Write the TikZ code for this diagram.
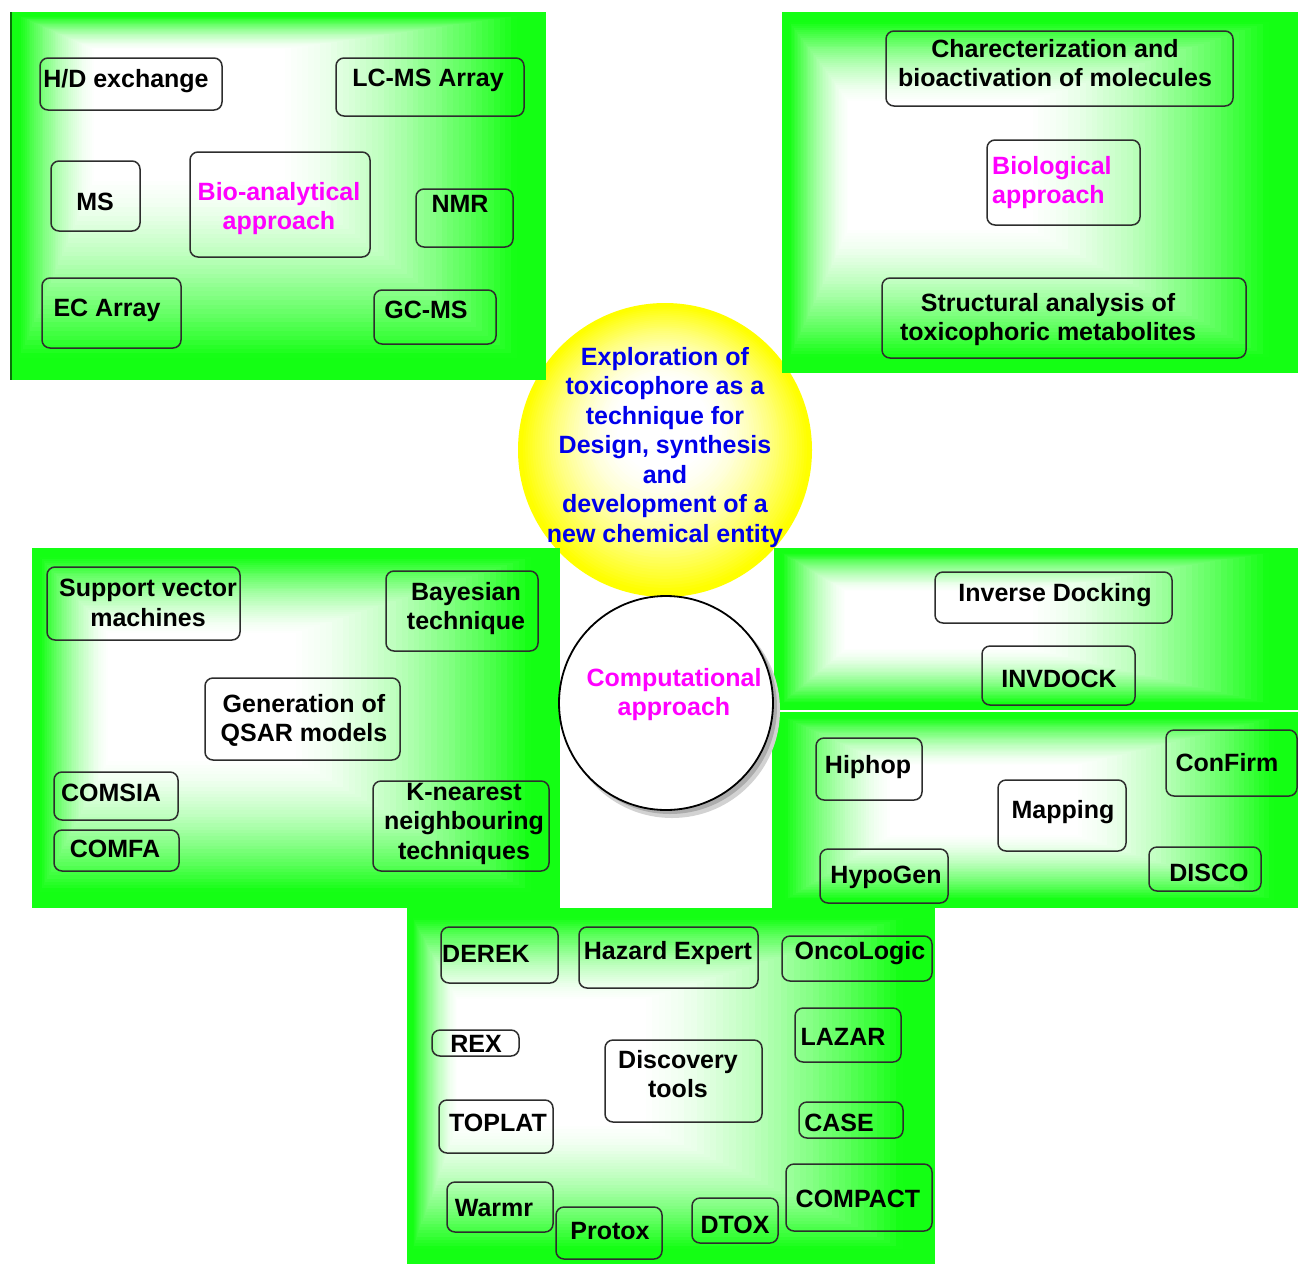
\documentclass[tikz,border=0pt]{standalone}
\usepackage{fontspec}
\setmainfont{Liberation Sans}
\definecolor{pgreen}{RGB}{20,255,20}
\definecolor{myyellow}{RGB}{255,255,0}
\definecolor{mymag}{RGB}{255,0,255}
\definecolor{myblue}{RGB}{0,0,235}
\definecolor{boxline}{RGB}{45,45,45}
% rectangular path gradient: x1 y1 x2 y2 fx fy
\newcommand\panelbg[6]{%
  \foreach \i in {70,69,...,1}{%
    \pgfmathsetmacro\tval{\i/70}%
    \pgfmathsetmacro\uval{max(0,min(1,(\tval-0.33)/0.6))}%
    \pgfmathtruncatemacro\pp{100*\uval^1.6}%
    \fill[pgreen!\pp!white] ({#5+\tval*(#1-#5)},{#6+\tval*(#2-#6)}) rectangle ({#5+\tval*(#3-#5)},{#6+\tval*(#4-#6)});
  }%
}
\newcommand\bx[4]{\draw[boxstyle] (#1,#2) rectangle (#3,#4);}
\tikzset{
  boxstyle/.style={draw=boxline, line width=1.5pt, rounded corners=8pt},
  lbl/.style={font=\fontsize{25}{29.5}\selectfont\bfseries, inner sep=0pt, align=center, anchor=north, text=black},
  maglbl/.style={lbl, text=mymag},
  bluelbl/.style={lbl, text=myblue},
}
\begin{document}
\begin{tikzpicture}[x=1pt,y=-1pt]
\useasboundingbox (0,0) rectangle (1298,1264);
% yellow central circle
\foreach \i in {60,59,...,1}{%
  \pgfmathsetmacro\tval{\i/60}%
  \pgfmathsetmacro\uval{max(0,min(1,(\tval-0.3)/0.68))}%
  \pgfmathtruncatemacro\pp{100*\uval^1.5}%
  \fill[myyellow!\pp!white] ({662+\tval*3},{415+\tval*35}) circle[radius={\tval*147pt}];
}
% panels
\panelbg{10}{12}{546}{380}{140}{70}
\draw[pgreen!45!black, line width=2pt] (11,12) -- (11,380);
\panelbg{782}{12}{1298}{373}{885}{150}
\panelbg{32}{548}{560}{908}{150}{680}
\panelbg{774}{548}{1298}{710}{885}{615}
\panelbg{772}{712}{1298}{908}{955}{795}
\panelbg{407}{908}{935}{1264}{485}{1050}
% computational circle with shadow
\fill[gray!35] (672,710) circle[radius=108pt];
\fill[gray!65] (670,707) circle[radius=107pt];
\draw[line width=1.8pt, fill=white] (666,703) circle[radius=107pt];
% ---- boxes ----
% top-left
\bx{40}{58}{222}{110}
\bx{336}{58}{524}{116}
\bx{51}{161}{140}{231}
\bx{190}{152}{370}{257}
\bx{416}{189}{513}{247}
\bx{42}{278}{181}{348}
\bx{374}{290}{496}{344}
% top-right
\bx{886}{31}{1233}{106}
\bx{987}{140}{1140}{225}
\bx{882}{278}{1246}{358}
% middle-left
\bx{47}{567}{240}{640}
\bx{386}{571}{538}{651}
\bx{205}{678}{400}{760}
\bx{54}{772}{178}{820}
\bx{54}{830}{179}{871}
\bx{373}{781}{549}{871}
% middle-right
\bx{935}{572}{1172}{623}
\bx{982}{646}{1135}{705}
\bx{816}{738}{922}{800}
\bx{998}{780}{1126}{851}
\bx{1166}{730}{1297}{796}
\bx{820}{849}{948}{903}
\bx{1149}{847}{1261}{891}
% bottom
\bx{441}{927}{558}{983}
\bx{579}{927}{758}{988}
\bx{782}{936}{932}{981}
\bx{432}{1030}{519}{1056}
\bx{795}{1008}{901}{1062}
\bx{605}{1040}{762}{1122}
\bx{439}{1100}{553}{1153}
\bx{799}{1102}{903}{1138}
\bx{447}{1182}{553}{1232}
\bx{556}{1207}{662}{1259}
\bx{692}{1198}{778}{1243}
\bx{786}{1164}{932}{1231}
% ---- texts ----
\node[bluelbl] (centre) at (665,347) {Exploration of\\toxicophore as a\\technique for\\Design, synthesis\\and\\development of a\\new chemical entity};
\node[maglbl] (comp) at (674,668) {Computational\\approach};
% top-left
\node[lbl] (hd) at (126,69) {H/D exchange};
\node[lbl] (lcms) at (428,69) {LC-MS Array};
\node[lbl] (ms) at (95,193) {MS};
\node[maglbl] (bioan) at (279,182) {Bio-analytical\\approach};
\node[lbl] (nmr) at (460,195) {NMR};
\node[lbl] (ec) at (107,299) {EC Array};
\node[lbl] (gcms) at (426,301) {GC-MS};
% top-right
\node[lbl] (char) at (1055,39) {Charecterization and\\bioactivation of molecules};
\node[maglbl, align=left, anchor=north west] (biol) at (992,156) {Biological\\approach};
\node[lbl] (struct) at (1048,293) {Structural analysis of\\toxicophoric metabolites};
% middle-left
\node[lbl] (svm) at (148,579) {Support vector\\machines};
\node[lbl] (bayes) at (466,582) {Bayesian\\technique};
\node[lbl] (qsar) at (304,694) {Generation of\\QSAR models};
\node[lbl] (comsia) at (111,784) {COMSIA};
\node[lbl] (comfa) at (115,840) {COMFA};
\node[lbl] (knn) at (464,783) {K-nearest\\neighbouring\\techniques};
% middle-right
\node[lbl] (invd) at (1055,583) {Inverse Docking};
\node[lbl] (invdock) at (1059,670) {INVDOCK};
\node[lbl] (hiphop) at (868,755) {Hiphop};
\node[lbl] (mapping) at (1063,800) {Mapping};
\node[lbl] (confirm) at (1227,753) {ConFirm};
\node[lbl] (hypogen) at (886,866) {HypoGen};
\node[lbl] (disco) at (1209,864) {DISCO};
% bottom
\node[lbl] (derek) at (486,945) {DEREK};
\node[lbl] (hazard) at (668,941) {Hazard Expert};
\node[lbl] (onco) at (860,941) {OncoLogic};
\node[lbl] (rex) at (476,1035) {REX};
\node[lbl] (lazar) at (843,1028) {LAZAR};
\node[lbl] (disc) at (678,1050) {Discovery\\tools};
\node[lbl] (toplat) at (498,1114) {TOPLAT};
\node[lbl] (case) at (839,1114) {CASE};
\node[lbl] (warmr) at (494,1199) {Warmr};
\node[lbl] (protox) at (610,1222) {Protox};
\node[lbl] (dtox) at (735,1216) {DTOX};
\node[lbl] (compact) at (858,1190) {COMPACT};
\end{tikzpicture}
\end{document}
